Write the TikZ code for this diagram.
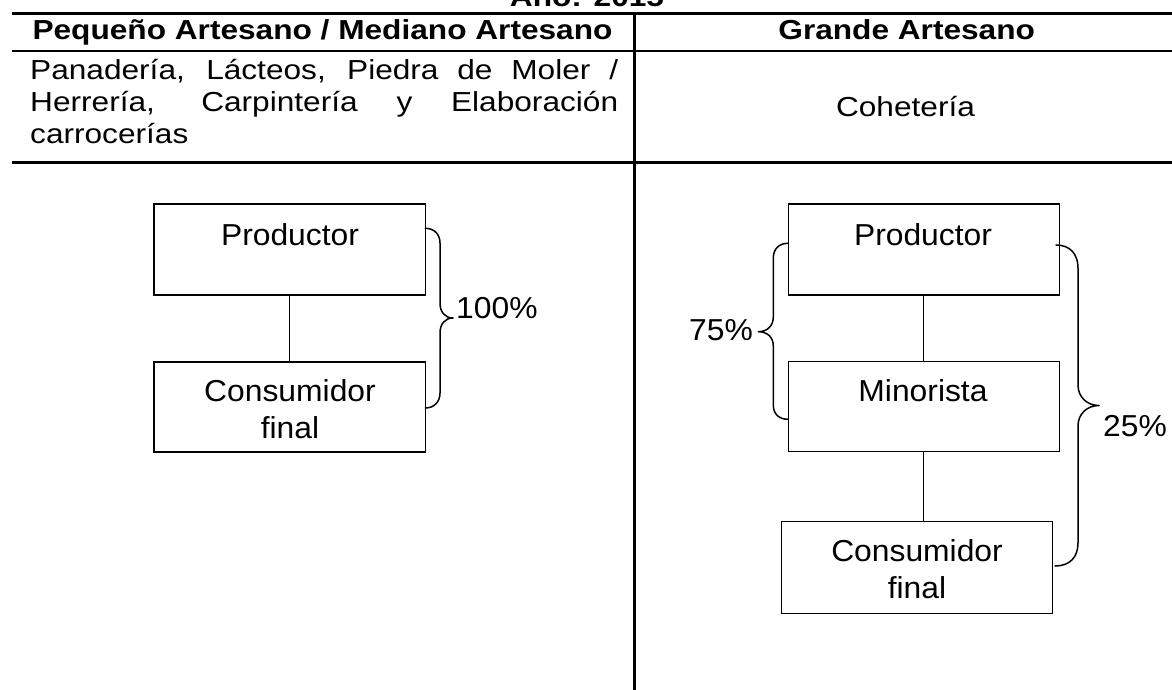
\documentclass[tikz,border=0pt]{standalone}
\usepackage{fontspec}
\setmainfont{Liberation Sans}
\newfontfamily\tabfont[FakeStretch=1.15]{Liberation Sans}
\newfontfamily\boxfont[FakeStretch=1.05]{Liberation Sans}
\begin{document}
\begin{tikzpicture}[x=1pt,y=-1pt,
  tabtxt/.style={font=\tabfont\fontsize{27.5}{31.5}\selectfont, inner sep=0pt},
  tabhead/.style={font=\tabfont\bfseries\fontsize{27.5}{31.5}\selectfont, inner sep=0pt},
  boxtxt/.style={font=\boxfont\fontsize{30.3}{37}\selectfont, inner sep=0pt},
  chbox/.style={draw, line width=1.5pt, inner sep=0pt},
  rule/.style={line width=2.4pt},
  thinrule/.style={line width=1.8pt},
  link/.style={line width=1.3pt},
  brace/.style={line width=1.5pt, line join=round, line cap=round}]

\useasboundingbox (0,0) rectangle (1172,690);

% table rules
\draw[rule] (12,13.5) -- (1172,13.5);
\draw[thinrule] (12,51) -- (1172,51);
\draw[rule] (12,162.5) -- (1172,162.5);
\draw[rule] (634.5,13.5) -- (634.5,690);

% title (cut at top, as in the reference)
\node[tabhead, anchor=base] (title) at (587,7) {Año: 2015};

% headers
\node[tabhead, anchor=base] (h1) at (322.5,40) {Pequeño Artesano / Mediano Artesano};
\node[tabhead, anchor=base] (h2) at (906.7,40) {Grande Artesano};

% descriptions
\node[tabtxt, anchor=base west] (d1) at (30,80) {\makebox[588pt][s]{Panadería, Lácteos, Piedra de Moler /}};
\node[tabtxt, anchor=base west] (d2) at (30,112) {\makebox[588pt][s]{Herrería, Carpintería y Elaboración}};
\node[tabtxt, anchor=base west] (d3) at (30,143) {carrocerías};
\node[tabtxt, anchor=base] (d4) at (905.5,116.7) {Cohetería};

% left chain
\node[chbox, minimum width=271.3pt, minimum height=91pt] (lp) at (289.7,249.5) {};
\node[chbox, minimum width=271.3pt, minimum height=90.3pt] (lc) at (289.7,406.9) {};
\node[boxtxt, anchor=base] (lpt) at (290,245) {Productor};
\node[boxtxt, anchor=base] (lct1) at (290,401.7) {Consumidor};
\node[boxtxt, anchor=base] (lct2) at (290,438.3) {final};
\draw[link] (lp) -- (lc);

% left brace 100%
\coordinate (b1s) at (425.3,228.3);
\coordinate (b1e) at (425.3,408);
\draw[brace] (b1s) .. controls (434,228.3) and (440,234) .. (440,243) -- (440,303)
  .. controls (440,312) and (445,318) .. (453,318)
  .. controls (445,318) and (440,324) .. (440,333) -- (440,393)
  .. controls (440,402) and (434,408) .. (b1e);
\node[boxtxt, anchor=base west] (p100) at (456,318.3) {100\%};

% right chain
\node[chbox, minimum width=271pt, minimum height=91pt] (rp) at (923.8,249.5) {};
\node[chbox, minimum width=271pt, minimum height=90pt] (rm) at (923.8,406.7) {};
\node[chbox, minimum width=271pt, minimum height=91.6pt] (rc) at (917.2,567.5) {};
\node[boxtxt, anchor=base] (rpt) at (923,245) {Productor};
\node[boxtxt, anchor=base] (rmt) at (923,401.7) {Minorista};
\node[boxtxt, anchor=base] (rct1) at (917,561.7) {Consumidor};
\node[boxtxt, anchor=base] (rct2) at (917,598.3) {final};
\draw[link] (rp) -- (rm);
\draw[link] (rm.south) -- (rm.south |- rc.north);

% brace 75%
\coordinate (b2s) at (788,243.3);
\coordinate (b2e) at (788,419.3);
\draw[brace] (b2s) .. controls (779,243.3) and (773.3,249) .. (773.3,258) -- (773.3,317)
  .. controls (773.3,326) and (767,331.7) .. (758.3,331.7)
  .. controls (767,331.7) and (773.3,337) .. (773.3,346) -- (773.3,405)
  .. controls (773.3,414) and (779,419.3) .. (b2e);
\node[boxtxt, anchor=base east] (p75) at (753,340) {75\%};

% brace 25%
\coordinate (b3s) at (1056,245);
\coordinate (b3e) at (1055,566);
\draw[brace] (b3s) .. controls (1070,245) and (1078,254) .. (1078,268) -- (1078,385)
  .. controls (1078,397) and (1087,405.5) .. (1099,405.5)
  .. controls (1087,405.5) and (1078,414) .. (1078,426) -- (1078,543)
  .. controls (1078,557) and (1070,566) .. (b3e);
\node[boxtxt, anchor=base west] (p25) at (1103,436.7) {25\%};
\end{tikzpicture}
\end{document}
